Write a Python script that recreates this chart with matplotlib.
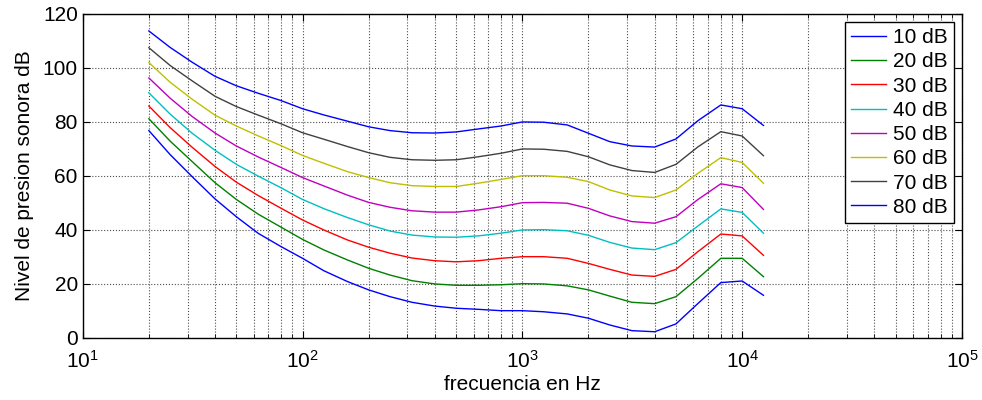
import numpy as np
import matplotlib
matplotlib.use("Agg")
import matplotlib.pyplot as plt

plt.rcParams['font.family'] = ['Liberation Sans', 'DejaVu Sans']
plt.rcParams['mathtext.fontset'] = 'custom'
plt.rcParams['mathtext.rm'] = 'Liberation Sans'
plt.rcParams['mathtext.it'] = 'Liberation Sans'

# 1/3 octave frequencies (Hz)
freqs = [20, 25, 31.5, 40, 50, 63, 80, 100, 125, 160, 200, 250, 315, 400, 500,
         630, 800, 1000, 1250, 1600, 2000, 2500, 3150, 4000, 5000, 6300, 8000,
         10000, 12500]

# curves (dB)
c10 = [76.7, 67.8, 59.6, 51.4, 44.8, 38.6, 33.7, 29.4, 24.8, 20.8, 17.7, 15.2, 13.1,
       11.7, 10.9, 10.5, 10.0, 10.0, 9.6, 8.8, 7.2, 4.7, 2.6, 2.2, 5.1, 12.7, 20.4,
       21.0, 15.7]
c20 = [81.1, 72.8, 65.2, 57.4, 51.2, 45.7, 40.9, 36.4, 32.5, 28.8, 25.7, 23.2, 21.1,
       19.9, 19.4, 19.4, 19.6, 20.0, 19.9, 19.2, 17.7, 15.4, 13.1, 12.6, 15.2, 22.0,
       29.4, 29.4, 22.6]
c30 = [85.8, 77.8, 70.5, 63.4, 57.6, 52.6, 47.9, 43.6, 39.9, 36.2, 33.5, 31.3, 29.5,
       28.5, 28.1, 28.5, 29.4, 30.0, 30.0, 29.4, 27.5, 25.3, 23.2, 22.7, 25.3, 31.9,
       38.4, 37.7, 30.5]
c40 = [90.7, 82.8, 75.7, 69.4, 64.2, 59.8, 55.5, 51.2, 47.8, 44.5, 41.8, 39.5, 38.0,
       37.3, 37.2, 37.7, 38.7, 39.9, 40.0, 39.6, 37.9, 35.3, 33.2, 32.6, 35.2, 41.4,
       47.7, 46.4, 38.7]
c50 = [96.2, 88.7, 81.9, 75.8, 71.0, 66.9, 63.0, 59.3, 56.2, 52.8, 50.1, 48.3, 47.0,
       46.5, 46.5, 47.3, 48.5, 50.0, 50.1, 49.8, 47.9, 45.1, 43.0, 42.4, 44.8, 51.2,
       57.0, 55.6, 47.5]
c60 = [101.9, 94.6, 88.3, 82.4, 78.4, 74.7, 71.1, 67.5, 64.6, 61.5, 59.3, 57.4, 56.3,
       56.0, 56.0, 57.2, 58.6, 60.0, 60.0, 59.4, 57.8, 54.7, 52.5, 51.9, 54.7, 60.9,
       66.7, 64.9, 57.2]
c70 = [107.4, 100.8, 95.1, 89.4, 85.6, 82.4, 79.2, 75.9, 73.5, 70.8, 68.5, 66.8, 65.9,
       65.7, 65.9, 67.0, 68.3, 69.9, 69.8, 69.0, 67.0, 64.0, 61.9, 61.2, 64.2, 70.7,
       76.3, 74.7, 67.4]
c80 = [113.6, 107.5, 102.0, 96.8, 93.3, 90.5, 87.8, 84.8, 82.5, 80.2, 78.1, 76.7, 75.9,
       75.8, 76.2, 77.3, 78.4, 79.9, 79.8, 78.8, 75.7, 72.6, 71.0, 70.6, 73.6, 80.4,
       86.2, 84.8, 78.6]

curves = [c10, c20, c30, c40, c50, c60, c70, c80]
labels = ['10 dB', '20 dB', '30 dB', '40 dB', '50 dB', '60 dB', '70 dB', '80 dB']
colors = [(0, 0, 1), (0, 0.5, 0), (1, 0, 0), (0, 0.75, 0.75), (0.75, 0, 0.75),
          (0.75, 0.75, 0), (0.25, 0.25, 0.25), (0, 0, 1)]

fig = plt.figure(figsize=(9.82, 4.0), dpi=100)
ax = fig.add_axes([0.0842, 0.1558, 0.8954, 0.81])

for c, lab, col in zip(curves, labels, colors):
    ax.semilogx(freqs, c, color=col, lw=1.0, label=lab)

ax.set_xlim(10, 1e5)
ax.set_ylim(0, 120)
ax.set_yticks(np.arange(0, 121, 20))
ax.grid(True, which='major', ls=':', color='0.3', lw=0.8)
ax.grid(True, which='minor', axis='x', ls=':', color='0.3', lw=0.8)
ax.tick_params(which='both', direction='in', top=True, right=True, labelsize=15)
ax.tick_params(which='major', length=5)
ax.tick_params(which='minor', length=3)
ax.tick_params(axis='x', pad=9)
for s in ax.spines.values():
    s.set_linewidth(1.0)

ax.set_xlabel('frecuencia en Hz', fontsize=15, labelpad=2)
ax.set_ylabel('Nivel de presion sonora dB', fontsize=15, labelpad=6)

leg = ax.legend(loc='upper right', fontsize=15, fancybox=False, framealpha=1,
                edgecolor='black', labelspacing=0.25, handlelength=1.7,
                handletextpad=0.3, borderaxespad=0.4, borderpad=0.3)
leg.get_frame().set_linewidth(1.0)

fig.savefig('out.png', dpi=100)
